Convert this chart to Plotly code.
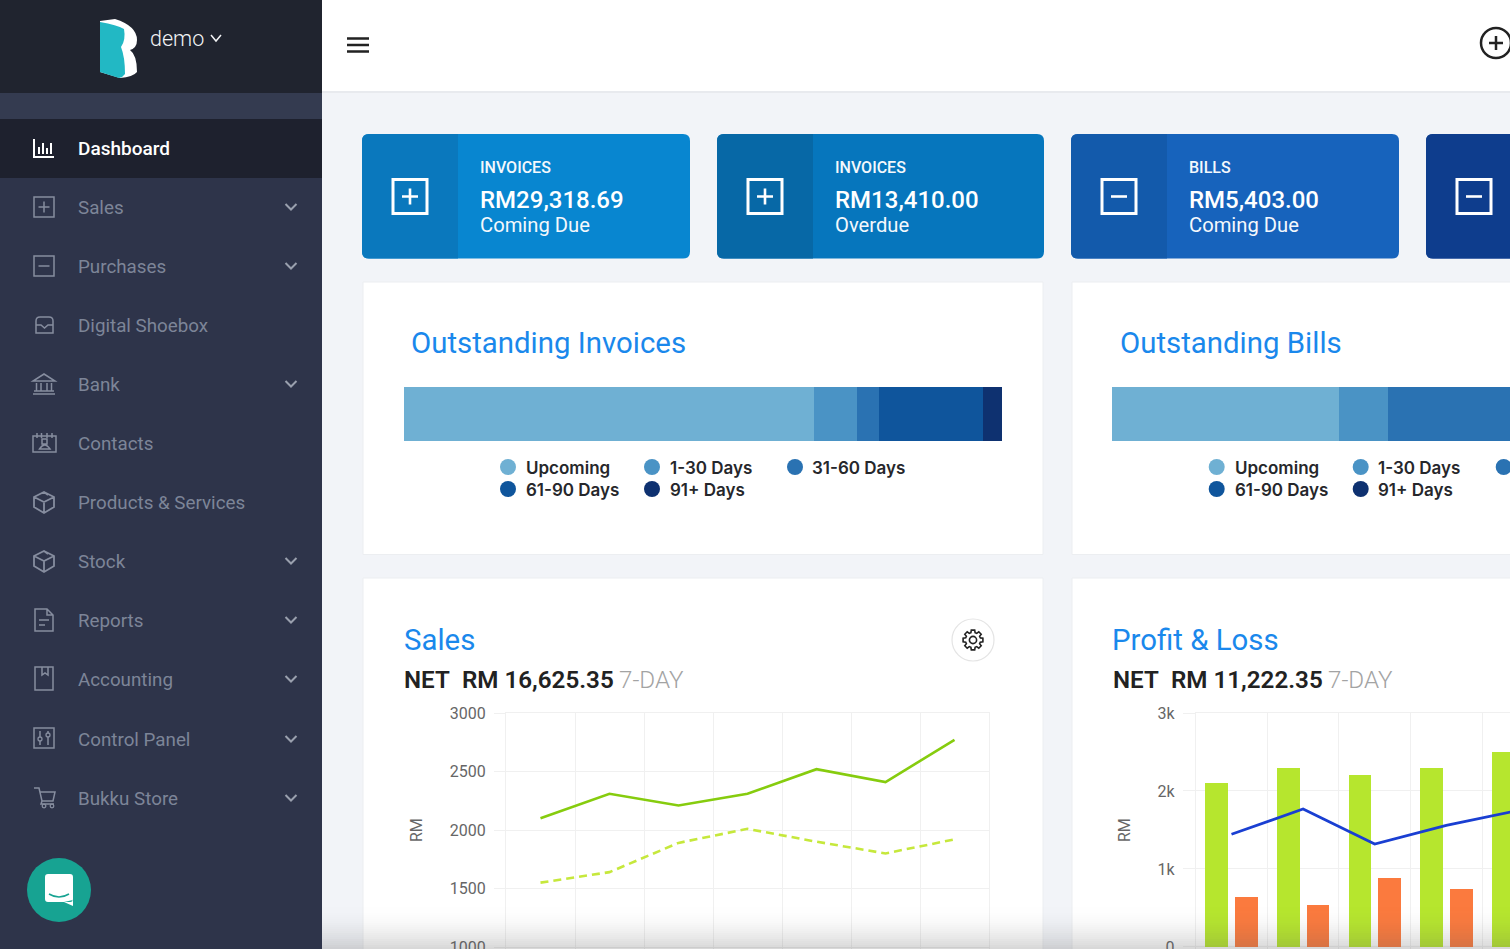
import math
import plotly.graph_objects as go

# ---- data ----
days = ["D1", "D2", "D3", "D4", "D5", "D6", "D7"]
sales_current = [2100, 2310, 2210, 2310, 2520, 2410, 2770]
sales_previous = [1550, 1640, 1890, 2010, 1900, 1800, 1920]
sales_ticks = [1000, 1500, 2000, 2500, 3000]

pl_income = [2100, 2300, 2200, 2300, 2500]
pl_expense = [645, 540, 885, 745]
pl_profit = [1445, 1770, 1320, 1560, 1750]
pl_ticks = [0, 1000, 2000, 3000]
pl_tick_labels = ["0", "1k", "2k", "3k"]

aging_labels = ["Upcoming", "1-30 Days", "31-60 Days", "61-90 Days", "91+ Days"]
aging_colors = ["#6fb0d3", "#4a93c5", "#2a72b2", "#0f559c", "#0e3170"]
invoice_aging = [29318.69, 3050, 1560, 7440, 1360]
bill_aging = [5403.00, 1166, 3100]
bill_visible_total = 9473

menu_items = ["Dashboard", "Sales", "Purchases", "Digital Shoebox", "Bank", "Contacts",
              "Products & Services", "Stock", "Reports", "Accounting", "Control Panel", "Bukku Store"]
menu_rows = [148, 207, 266, 325, 384, 443, 502, 561, 620, 679, 739, 798]
menu_chevron = [False, True, True, False, True, False, False, True, True, True, True, True]

tile_heads = ["INVOICES", "INVOICES", "BILLS"]
tile_amounts = ["RM29,318.69", "RM13,410.00", "RM5,403.00"]
tile_captions = ["Coming Due", "Overdue", "Coming Due"]

W, H = 1510, 949
shapes, notes = [], []
SIDE_TXT = "#7d8598"
SIDE_ICON = "#868d9f"


def rect(x0, y0, x1, y1, fill, line=None, lw=0, layer="below"):
    shapes.append(dict(type="rect", xref="x", yref="y", x0=x0, y0=y0, x1=x1, y1=y1, fillcolor=fill,
                       line=dict(color=line or "rgba(0,0,0,0)", width=lw), layer=layer))


def circ(cx, cy, r, fill, line=None, lw=0, layer="below"):
    shapes.append(dict(type="circle", xref="x", yref="y", x0=cx - r, y0=cy - r, x1=cx + r, y1=cy + r,
                       fillcolor=fill, line=dict(color=line or "rgba(0,0,0,0)", width=lw), layer=layer))


def path(d, line=None, lw=1.5, fill="rgba(0,0,0,0)", layer="below"):
    shapes.append(dict(type="path", xref="x", yref="y", path=d, fillcolor=fill,
                       line=dict(color=line or "rgba(0,0,0,0)", width=lw), layer=layer))


def rrect(x0, y0, x1, y1, r, left=True, right=True):
    d = f"M{x0 + (r if left else 0)} {y0} L{x1 - (r if right else 0)} {y0} "
    d += f"Q{x1} {y0} {x1} {y0 + r} L{x1} {y1 - r} Q{x1} {y1} {x1 - r} {y1} " if right else f"L{x1} {y1} "
    d += f"L{x0 + (r if left else 0)} {y1} "
    d += f"Q{x0} {y1} {x0} {y1 - r} L{x0} {y0 + r} Q{x0} {y0} {x0 + r} {y0} Z" if left else f"L{x0} {y0} Z"
    return d


def text(x, y, s, size, color, weight=400, family="Roboto", anchor="left", angle=0):
    notes.append(dict(xref="x", yref="y", x=x, y=y, text=s, showarrow=False, xanchor=anchor, yanchor="middle",
                      textangle=angle, borderpad=0, borderwidth=0,
                      font=dict(size=size, color=color, family=family, weight=weight)))


# ---- page frame ----
rect(322, 0, W, H, "#f2f4f8")
rect(322, 0, W, 91, "#ffffff")
rect(322, 91, W, 93, "#e8eaee")
rect(0, 0, 322, H, "#2e344a")
rect(0, 0, 322, 93, "#20242f")
rect(0, 93, 322, 119, "#343b50")
rect(0, 119, 322, 178, "#1e212e")

# logo
path("M100 21 L115 19 Q137 26 137 40 Q137 48 130 50 Q137 55 137 72 Q133 77 120 78 L100 72 Z", fill="#ffffff")
path("M100 22 Q117 25 124 29 Q126 40 121 47 Q125 57 125 74 Q123 77 119 78 L100 72 Z", fill="#22b8c4")
text(150, 38, "demo", 21.5, "#f2f3f5", 300)
path("M211 35 L216 41 L221 35", line="#f2f3f5", lw=1.5)

# sidebar menu
for name, y, chev in zip(menu_items, menu_rows, menu_chevron):
    active = name == "Dashboard"
    text(78, y + (0 if active else 1), name, 19 if active else 18.8, "#ffffff" if active else SIDE_TXT,
         500 if active else 400)
    if chev:
        path(f"M285.5 {y - 3} L291 {y + 2.5} L296.5 {y - 3}", line="#9aa0ae", lw=2)

c = SIDE_ICON
path("M34 139 V157 H54 M39 154 V147 M43 154 V143 M47 154 V148 M51 154 V143", line="#ffffff", lw=2)
for y, plus in ((207, True), (266, False)):
    rect(34, y - 10, 54, y + 10, "rgba(0,0,0,0)", c, 1.5)
    path(f"M38.5 {y} H49.5" + (f" M44 {y - 5.5} V{y + 5.5}" if plus else ""), line=c, lw=1.5)
path("M36 321 Q36 317 40 317 H49 Q53 317 53 321 V333 H36 Z M36 325 H41 L44.5 328 L48 325 H53", line=c)
path("M44 374 L55 381 H33 Z M33 394 H55 M34 391 H54 M36.5 383 V391 M41 383 V391 M47 383 V391 M51.5 383 V391", line=c)
path("M33 436 H56 V452 H33 Z M37 433 V438 M41.5 433 V438 M47 433 V438 M52 433 V438 "
     "M39.5 449 Q44.5 441 50 449 Z M42 439 H47 V444 H42 Z", line=c)
for y in (502, 561):
    path(f"M44 {y - 10} L54 {y - 5} V{y + 5} L44 {y + 11} L34 {y + 5} V{y - 5} Z "
         f"M34 {y - 5} L44 {y} L54 {y - 5} M44 {y} V{y + 11} M44 {y - 10} L48 {y - 7}", line=c, lw=1.8)
path("M35 609 H47 L53 615 V631 H35 Z M47 609 V615 H53 M39 620 H49 M39 625 H45", line=c)
path("M35 667 H53 V690 H35 Z M42 667 V675 L45 673 L48 675 V667", line=c)
path("M34 728 H54 V748 H34 Z M40 731 V745 M48 731 V745", line=c)
circ(40, 739, 2, "#2e344a", c, 1.3)
circ(48, 735, 2, "#2e344a", c, 1.3)
path("M34 788 H39 L42 801 H53 L55 792 H40 M42 801 L41 804 H54", line=c)
circ(44, 806, 1.8, "rgba(0,0,0,0)", c, 1.3)
circ(52, 806, 1.8, "rgba(0,0,0,0)", c, 1.3)

# chat button
circ(59, 890, 32, "#17a392")
path(rrect(45, 874, 73, 902, 3) + " M73 900 V906 L64 902 Z", fill="#ffffff")
path("M49 894 Q59 900 69 894", line="#17a392", lw=1.5)

# top bar icons
path("M347 38.5 H369 M347 45 H369 M347 51.5 H369", line="#222222", lw=2.4)
circ(1496, 43, 15, "#ffffff", "#222222", 2.5)
path("M1489 43 H1503 M1496 36 V50", line="#222222", lw=2.5)

# KPI tiles
tile_x = [(362, 690), (717, 1044), (1071, 1399), (1426, 1520)]
tile_main = ["#0886d0", "#0676bd", "#1763bc", "#0f4398"]
tile_left = ["#0a78bd", "#0768a6", "#135aab", "#0e3d8d"]
for i, ((x0, x1), m, l) in enumerate(zip(tile_x, tile_main, tile_left)):
    path(rrect(x0, 134, x1, 258.5, 7), fill=m)
    path(rrect(x0, 134, x0 + 96, 258.5, 7, right=False), fill=l)
    ix = x0 + 31
    rect(ix, 179.5, ix + 34, 213.5, "rgba(0,0,0,0)", "#ffffff", 3)
    d = f"M{ix + 9} 196.5 H{ix + 25}"
    if i < 2:
        d += f" M{ix + 17} 188.5 V204.5"
    path(d, line="#ffffff", lw=2.6)
for i in range(3):
    tx = tile_x[i][0] + 118
    text(tx, 167, tile_heads[i], 16, "#f4f8fc", 500)
    text(tx, 200, tile_amounts[i], 24, "#ffffff", 500)
    text(tx, 225, tile_captions[i], 20.2, "#f4f8fc", 400)

# cards
for x0, x1, y0, y1 in ((363, 1043, 282, 554.5), (1072, 1520, 282, 554.5), (363, 1043, 578, 960), (1072, 1520, 578, 960)):
    rect(x0, y0, x1, y1, "#ffffff", "#eceef1", 1)

BLUE = "#1a88ec"
text(411, 343, "Outstanding Invoices", 29.4, BLUE)
text(1119.5, 343, "Outstanding Bills", 29.4, BLUE)
text(403.5, 640, "Sales", 29.4, BLUE)
text(1112, 640, "Profit &amp; Loss", 29.4, BLUE)
text(404, 680, "NET&#160;&#160;RM 16,625.35", 24.2, "#222222", 600)
text(619, 680, "7-DAY", 24.2, "#a3a3a3", 300)
text(1112.5, 680, "NET&#160;&#160;RM 11,222.35", 24.2, "#222222", 600)
text(1328, 680, "7-DAY", 24.2, "#a3a3a3", 300)
text(416, 830, "RM", 16, "#666666", angle=-90, anchor="center")
text(1124, 830, "RM", 16, "#666666", angle=-90, anchor="center")

# gear
teeth = []
for k in range(8):
    a = k * math.pi / 4
    for da, r in ((-0.28, 7.6), (-0.17, 10), (0.17, 10), (0.28, 7.6)):
        teeth.append((973 + r * math.cos(a + da), 640 + r * math.sin(a + da)))
gear = "M" + " L".join(f"{px:.1f} {py:.1f}" for px, py in teeth) + " Z"
circ(973, 640, 21, "#ffffff", "#e4e4e4", 1.2)
path(gear, line="#222222", lw=1.6)
circ(973, 640, 3.6, "rgba(0,0,0,0)", "#222222", 1.6)

# legends
legend_cols = [508, 652, 795]
legend_rows = [467, 489]
text_x = [526, 669.5, 812]
for off in (0, 708.7):
    for i, (lab, col) in enumerate(zip(aging_labels, aging_colors)):
        cx = legend_cols[i % 3] + off
        cy = legend_rows[i // 3]
        if cx < W + 8:
            circ(cx, cy, 8, col)
        if text_x[i % 3] + off < W:
            text(text_x[i % 3] + off, cy + 1, lab, 17, "#26272b", 600, family="Inter")

# bottom fade of the screenshot
N = 22
for i in range(N):
    rect(322, 905 + i * 2, W, 907 + i * 2, f"rgba(90,90,90,{0.24 * ((i + 1) / N) ** 2:.3f})", layer="above")

fig = go.Figure()
# page coordinate layer
fig.add_trace(go.Scatter(x=[0], y=[0], xaxis="x", yaxis="y", mode="markers", marker=dict(opacity=0), hoverinfo="skip"))

# Sales chart
xs = list(range(len(days)))
fig.add_trace(go.Scatter(x=xs, y=sales_current, xaxis="x2", yaxis="y2", mode="lines",
                         line=dict(color="#86cc0e", width=2.6), name="Current"))
fig.add_trace(go.Scatter(x=xs, y=sales_previous, xaxis="x2", yaxis="y2", mode="lines",
                         line=dict(color="#c6e83c", width=2.6, dash="8px,5px"), name="Previous"))

# Profit and loss chart
fig.add_trace(go.Bar(x=list(range(len(pl_income))), y=pl_income, xaxis="x3", yaxis="y3", width=0.317, offset=-0.37,
                     marker=dict(color="#b6e62e", line=dict(width=0)), name="Income"))
fig.add_trace(go.Bar(x=list(range(len(pl_expense))), y=pl_expense, xaxis="x3", yaxis="y3", width=0.317, offset=0.045,
                     marker=dict(color="#fb7a3e", line=dict(width=0)), name="Expenses"))
fig.add_trace(go.Scatter(x=list(range(len(pl_profit))), y=pl_profit, xaxis="x3", yaxis="y3", mode="lines",
                         line=dict(color="#1a3fd2", width=2.8), name="Profit"))

# Stacked aging bars
for vals, xa, ya in ((invoice_aging, "x4", "y4"), (bill_aging, "x5", "y5")):
    base = 0
    for v, lab, col in zip(vals, aging_labels, aging_colors):
        fig.add_trace(go.Bar(x=[v], y=[0], base=base, orientation="h", width=1, xaxis=xa, yaxis=ya, name=lab,
                             marker=dict(color=col, line=dict(width=0))))
        base += v

GRID = "#f0f0f0"
tickfont = dict(family="Roboto", size=16, color="#666666")
hidden = dict(visible=False, fixedrange=True, automargin=False)
edges = dict(showline=True, mirror=True, linecolor=GRID, linewidth=1)
fig.update_layout(
    template="none",
    width=W, height=H, autosize=False, margin=dict(l=0, r=0, t=0, b=0, pad=0, autoexpand=False), showlegend=False,
    paper_bgcolor="#ffffff", plot_bgcolor="rgba(0,0,0,0)", barmode="overlay", bargap=0,
    shapes=shapes, annotations=notes,
    xaxis=dict(domain=[0, 1], range=[0, W], **hidden),
    yaxis=dict(domain=[0, 1], range=[H, 0], **hidden),
    xaxis2=dict(domain=[506 / W, 989 / W], range=[-0.5, 6.5], anchor="y2", tick0=-0.5, dtick=1, showticklabels=False,
                ticks="", showgrid=True, gridcolor=GRID, zeroline=False, fixedrange=True, automargin=False, **edges),
    yaxis2=dict(domain=[0, (H - 713) / H], range=[983, 3000], anchor="x2", tickvals=sales_ticks, ticks="outside",
                ticklen=11, tickcolor=GRID, showgrid=True, gridcolor=GRID, zeroline=False, tickfont=tickfont,
                ticklabelstandoff=5, ticklabeloverflow="allow", fixedrange=True, automargin=False, **edges),
    xaxis3=dict(domain=[1195.7 / W, 1], range=[-0.5, 3.89], anchor="y3", tick0=-0.5, dtick=1, showticklabels=False,
                ticks="", showgrid=True, gridcolor=GRID, zeroline=False, fixedrange=True, automargin=False, **edges),
    yaxis3=dict(domain=[0, (H - 713) / H], range=[-26, 3000], anchor="x3", tickvals=pl_ticks, ticktext=pl_tick_labels,
                ticks="outside", ticklen=12, tickcolor=GRID, showgrid=True, gridcolor=GRID, zeroline=False,
                tickfont=tickfont, ticklabelstandoff=5, ticklabeloverflow="allow", fixedrange=True, automargin=False,
                **edges),
    xaxis4=dict(domain=[404 / W, 1002 / W], range=[0, sum(invoice_aging)], anchor="y4", **hidden),
    yaxis4=dict(domain=[(H - 441) / H, (H - 387) / H], range=[-0.5, 0.5], anchor="x4", **hidden),
    xaxis5=dict(domain=[1112 / W, 1], range=[0, bill_visible_total], anchor="y5", **hidden),
    yaxis5=dict(domain=[(H - 441) / H, (H - 387) / H], range=[-0.5, 0.5], anchor="x5", **hidden),
)

fig.write_html("out.html", config=dict(displayModeBar=False),
               post_script="document.body.style.margin='0';document.body.style.overflow='hidden';")
